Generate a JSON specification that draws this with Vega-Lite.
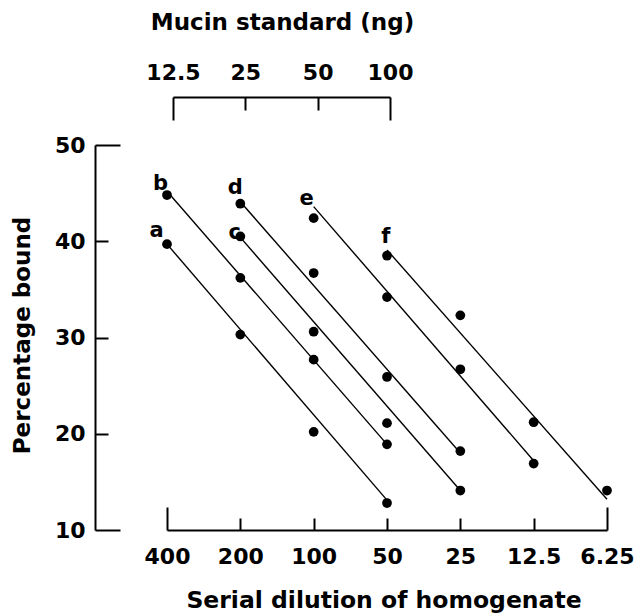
{
  "$schema": "https://vega.github.io/schema/vega-lite/v6.json",
  "width": 515,
  "height": 385,
  "autosize": "none",
  "padding": {"left": 95, "top": 145, "right": 28, "bottom": 83},
  "background": "white",
  "config": {
    "view": {"stroke": null},
    "axis": {
      "domainColor": "black", "domainWidth": 2, "tickColor": "black", "tickWidth": 2,
      "labelFont": "DejaVu Sans", "labelFontWeight": "bold", "labelFontSize": 22, "labelColor": "black",
      "titleFont": "DejaVu Sans", "titleFontWeight": "bold", "titleFontSize": 23, "titleColor": "black",
      "grid": false, "labelOverlap": false, "labelBound": false, "labelFlush": false
    }
  },
  "datasets": {
    "points": [
      {"series": "a", "dilution": 400, "pct": 39.7},
      {"series": "a", "dilution": 200, "pct": 30.3},
      {"series": "a", "dilution": 100, "pct": 20.2},
      {"series": "a", "dilution": 50, "pct": 12.8},
      {"series": "b", "dilution": 400, "pct": 44.8},
      {"series": "b", "dilution": 200, "pct": 36.2},
      {"series": "b", "dilution": 100, "pct": 27.7},
      {"series": "b", "dilution": 50, "pct": 18.9},
      {"series": "c", "dilution": 200, "pct": 40.5},
      {"series": "c", "dilution": 100, "pct": 30.6},
      {"series": "c", "dilution": 50, "pct": 21.1},
      {"series": "c", "dilution": 25, "pct": 14.1},
      {"series": "d", "dilution": 200, "pct": 43.9},
      {"series": "d", "dilution": 100, "pct": 36.7},
      {"series": "d", "dilution": 50, "pct": 25.9},
      {"series": "d", "dilution": 25, "pct": 18.2},
      {"series": "e", "dilution": 100, "pct": 42.4},
      {"series": "e", "dilution": 50, "pct": 34.2},
      {"series": "e", "dilution": 25, "pct": 26.7},
      {"series": "e", "dilution": 12.5, "pct": 16.9},
      {"series": "f", "dilution": 50, "pct": 38.5},
      {"series": "f", "dilution": 25, "pct": 32.3},
      {"series": "f", "dilution": 12.5, "pct": 21.2},
      {"series": "f", "dilution": 6.25, "pct": 14.1}
    ],
    "lines": [
      {"series": "a", "dilution": 400, "pct": 39.7},
      {"series": "a", "dilution": 50, "pct": 13.1},
      {"series": "b", "dilution": 400, "pct": 45.2},
      {"series": "b", "dilution": 50, "pct": 18.9},
      {"series": "c", "dilution": 200, "pct": 40.4},
      {"series": "c", "dilution": 25, "pct": 14.1},
      {"series": "d", "dilution": 200, "pct": 44.1},
      {"series": "d", "dilution": 25, "pct": 18.0},
      {"series": "e", "dilution": 100, "pct": 43.6},
      {"series": "e", "dilution": 12.5, "pct": 17.2},
      {"series": "f", "dilution": 50, "pct": 39.1},
      {"series": "f", "dilution": 6.25, "pct": 13.2}
    ],
    "labels": [
      {"series": "a", "dilution": 441, "pct": 40.4},
      {"series": "b", "dilution": 425, "pct": 45.3},
      {"series": "c", "dilution": 211, "pct": 40.2},
      {"series": "d", "dilution": 210, "pct": 44.9},
      {"series": "e", "dilution": 106.8, "pct": 43.8},
      {"series": "f", "dilution": 50.6, "pct": 39.8}
    ],
    "mucin": [
      {"mucin": 12.5}, {"mucin": 25}, {"mucin": 50}, {"mucin": 100}
    ]
  },
  "resolve": {"scale": {"x": "independent"}, "axis": {"x": "independent"}},
  "layer": [
    {
      "layer": [
        {
          "data": {"name": "lines"},
          "mark": {"type": "line", "color": "black", "strokeWidth": 1.4},
          "encoding": {
            "x": {"field": "dilution", "type": "quantitative",
              "scale": {"type": "log", "domain": [400, 6.25], "range": [72, 512], "nice": false, "zero": false},
              "axis": {
                "orient": "bottom",
                "values": [400, 200, 100, 50, 25, 12.5, 6.25],
                "labelExpr": "'' + datum.value",
                "tickSize": {"expr": "datum.value == 400 || datum.value == 6.25 ? -23 : -12"},
                "labelPadding": {"expr": "datum.value == 400 || datum.value == 6.25 ? 56 : 45"},
                "labelBaseline": "alphabetic",
                "title": "Serial dilution of homogenate",
                "titleX": 288.5, "titleY": 77, "titleBaseline": "alphabetic", "titleAlign": "center",
                "titleFontSize": 23.5
              }
            },
            "y": {"field": "pct", "type": "quantitative",
              "scale": {"domain": [10, 50], "nice": false, "zero": false},
              "axis": {
                "values": [10, 20, 30, 40, 50],
                "tickSize": {"expr": "datum.value == 10 || datum.value == 50 ? -25 : -13"},
                "labelPadding": {"expr": "datum.value == 10 || datum.value == 50 ? 35 : 23"},
                "title": "Percentage bound",
                "titleX": -66, "titleY": 190, "titleBaseline": "alphabetic", "titleAlign": "center", "titleAngle": -90
              }
            },
            "detail": {"field": "series", "type": "nominal"}
          }
        },
        {
          "data": {"name": "points"},
          "mark": {"type": "circle", "color": "black", "opacity": 1, "size": 95},
          "encoding": {
            "x": {"field": "dilution", "type": "quantitative"},
            "y": {"field": "pct", "type": "quantitative"}
          }
        },
        {
          "data": {"name": "labels"},
          "mark": {"type": "text", "font": "DejaVu Sans", "fontWeight": "bold", "fontSize": 21, "color": "black", "align": "center", "baseline": "alphabetic"},
          "encoding": {
            "x": {"field": "dilution", "type": "quantitative"},
            "y": {"field": "pct", "type": "quantitative"},
            "text": {"field": "series", "type": "nominal"}
          }
        }
      ]
    },
    {
      "data": {"name": "mucin"},
      "mark": {"type": "rule", "strokeOpacity": 0},
      "encoding": {
        "x": {"field": "mucin", "type": "quantitative",
          "scale": {"type": "log", "domain": [12.5, 100], "range": [78, 295], "nice": false, "zero": false},
          "axis": {
            "orient": "top",
            "offset": 48,
            "values": [12.5, 25, 50, 100],
            "labelExpr": "'' + datum.value",
            "tickSize": {"expr": "datum.value == 12.5 || datum.value == 100 ? -23 : -13"},
            "labelPadding": {"expr": "datum.value == 12.5 || datum.value == 100 ? 41 : 31"},
            "labelBaseline": "alphabetic",
            "title": "Mucin standard (ng)",
            "titleX": 187, "titleY": -68, "titleBaseline": "alphabetic", "titleAlign": "center"
          }
        }
      }
    }
  ]
}
